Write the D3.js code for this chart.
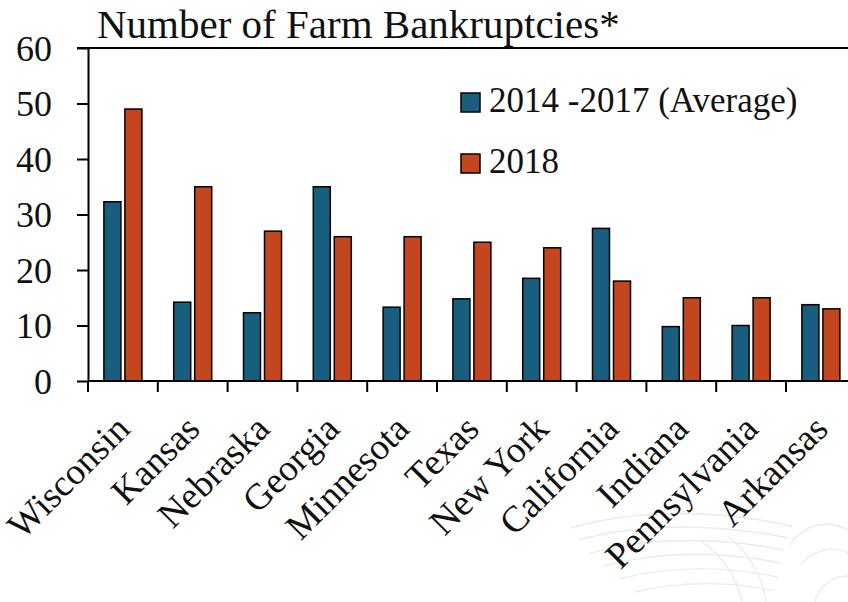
<!DOCTYPE html>
<html>
<head>
<meta charset="utf-8">
<script src="https://cdn.jsdelivr.net/npm/d3@7"></script>
<style>
  html, body { margin: 0; padding: 0; background: #fff; }
  svg { display: block; }
  text { font-family: "Liberation Serif", "Times New Roman", serif; fill: #111; }
</style>
</head>
<body>
<svg id="chart" width="848" height="602"></svg>
<script>
// Farm bankruptcies by state
const states = ["Wisconsin", "Kansas", "Nebraska", "Georgia", "Minnesota", "Texas",
                "New York", "California", "Indiana", "Pennsylvania", "Arkansas"];
const avg2014to2017 = [32.3, 14.2, 12.3, 35, 13.3, 14.8, 18.5, 27.5, 9.8, 10, 13.75];
const y2018 = [49, 35, 27, 26, 26, 25, 24, 18, 15, 15, 13];
const seriesNames = ["2014 -2017 (Average)", "2018"];
const seriesColors = ["#175e7f", "#c3461f"];
const yTicks = [0, 10, 20, 30, 40, 50, 60];
const titleText = "Number of Farm Bankruptcies*";

const svg = d3.select("#chart");

const plotLeft = 88, plotTop = 48, plotBottom = 381;
const bandW = 69.8;
const plotRight = plotLeft + bandW * states.length;

const x = d3.scaleBand().domain(states).range([plotLeft, plotRight]).paddingInner(0).paddingOuter(0);
const y = d3.scaleLinear().domain([0, 60]).range([plotBottom, plotTop]);

// faint wing watermark, lower right
const wm = svg.append("g").attr("fill", "none").attr("stroke", "#ebebeb").attr("stroke-width", 1.4);
const wingLines = [
  "M570,528 C640,508 720,510 792,526",
  "M578,540 C645,522 720,524 788,538",
  "M590,553 C655,536 722,538 784,550",
  "M603,566 C665,550 726,552 780,563",
  "M618,579 C675,565 730,567 777,577",
  "M635,592 C685,580 735,582 775,591",
  "M700,540 C722,556 737,578 742,602",
  "M728,536 C748,552 763,576 766,602",
  "M790,545 C805,522 830,520 848,530",
  "M800,565 C815,548 835,546 848,553",
  "M815,602 C818,586 832,576 848,576"
];
wingLines.forEach(d => wm.append("path").attr("d", d));

// top border line
svg.append("line")
  .attr("x1", 77).attr("x2", 848)
  .attr("y1", y(60)).attr("y2", y(60))
  .attr("stroke", "#000").attr("stroke-width", 2);

// bars
const barW = 17, gap = 4;
const groups = svg.append("g");
states.forEach((s, i) => {
  const cx = x(s) + x.bandwidth() / 2;
  [avg2014to2017[i], y2018[i]].forEach((v, k) => {
    const bx = k === 0 ? cx - gap / 2 - barW : cx + gap / 2;
    groups.append("rect")
      .attr("x", bx).attr("y", y(v))
      .attr("width", barW).attr("height", y(0) - y(v))
      .attr("fill", seriesColors[k])
      .attr("stroke", "#000").attr("stroke-width", 1.5);
  });
});

// y axis
const yAxis = svg.append("g").attr("transform", `translate(${plotLeft},0)`)
  .call(d3.axisLeft(y).tickValues(yTicks).tickSize(11).tickPadding(25).tickSizeOuter(0));
yAxis.select(".domain").attr("stroke", "#000").attr("stroke-width", 2);
yAxis.selectAll(".tick line").attr("stroke", "#000").attr("stroke-width", 2);
yAxis.selectAll(".tick text")
  .attr("font-family", "Liberation Serif, serif")
  .attr("font-size", 36).attr("fill", "#111").attr("dy", "0.34em");

// x axis baseline and ticks between categories
svg.append("line")
  .attr("x1", plotLeft).attr("x2", 848)
  .attr("y1", plotBottom).attr("y2", plotBottom)
  .attr("stroke", "#000").attr("stroke-width", 2);
const boundaries = states.map(s => x(s));
svg.selectAll(".xtick").data(boundaries).enter().append("line")
  .attr("x1", d => d).attr("x2", d => d)
  .attr("y1", plotBottom).attr("y2", plotBottom + 11)
  .attr("stroke", "#000").attr("stroke-width", 2);

// rotated category labels
svg.selectAll(".xlabel").data(states).enter().append("text")
  .attr("font-size", 37)
  .attr("text-anchor", "end")
  .attr("transform", d => {
    const cx = x(d) + x.bandwidth() / 2;
    return `translate(${cx + 9},${plotBottom + 50}) rotate(-45)`;
  })
  .text(d => d);

// title
svg.append("text")
  .attr("x", 97).attr("y", 38)
  .attr("font-size", 41)
  .text(titleText);

// legend
seriesNames.forEach((name, k) => {
  const ly = [112, 173][k];
  svg.append("rect")
    .attr("x", 461).attr("y", ly - 19)
    .attr("width", 19).attr("height", 19)
    .attr("fill", seriesColors[k])
    .attr("stroke", "#000").attr("stroke-width", 1.5);
  svg.append("text")
    .attr("x", 489).attr("y", ly)
    .attr("font-size", 35)
    .text(name);
});
</script>
</body>
</html>
